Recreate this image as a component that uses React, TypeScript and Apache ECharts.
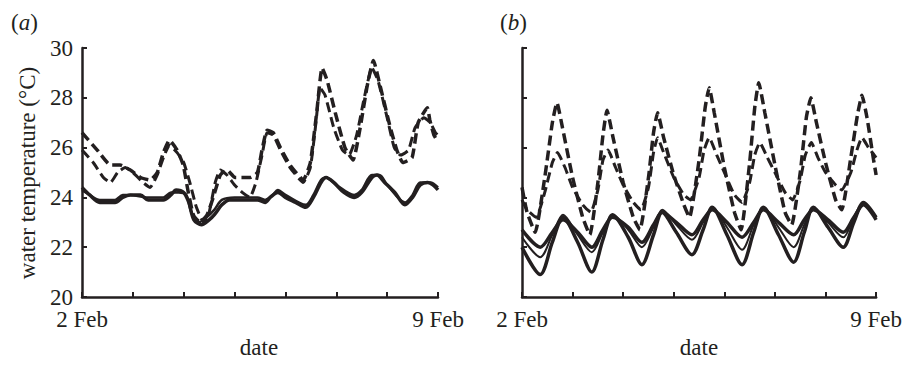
import React, { useEffect, useRef } from "react";
import * as echarts from "echarts";

// ---------- data (day offset from 2 Feb, water temperature °C) ----------
const xTickLabels = ["2 Feb", "", "", "", "", "", "", "9 Feb"];
const yTicks = [20, 22, 24, 26, 28, 30];

// panel (a)
const aDashed1: [number, number][] = [
  [0, 26.6], [0.3, 25.9], [0.56, 25.3], [0.75, 25.3], [0.95, 25.1], [1.15, 24.8], [1.34, 24.7],
  [1.48, 25.0], [1.6, 25.8], [1.72, 26.3], [1.87, 25.9], [1.99, 25.3], [2.09, 24.2], [2.19, 23.3],
  [2.32, 23.0], [2.46, 23.3], [2.58, 24.0], [2.72, 24.9], [2.85, 25.1], [3.01, 24.8], [3.31, 24.8],
  [3.45, 25.0], [3.54, 25.9], [3.64, 26.7], [3.76, 26.6], [3.9, 26.0], [4.09, 25.3], [4.35, 24.7],
  [4.49, 25.4], [4.62, 27.5], [4.72, 29.2], [4.82, 28.7], [4.98, 27.4], [5.17, 26.0], [5.33, 25.5],
  [5.47, 26.8], [5.61, 28.5], [5.73, 29.5], [5.86, 28.5], [6.05, 26.9], [6.19, 25.9], [6.31, 25.4],
  [6.49, 25.6], [6.61, 27.0], [6.79, 27.6], [6.84, 27.1], [6.92, 26.5], [6.98, 26.3],
];
const aDashed2: [number, number][] = [
  [0, 25.9], [0.22, 25.4], [0.42, 24.8], [0.56, 24.6], [0.7, 25.0], [0.85, 25.2], [1.0, 25.0],
  [1.2, 24.6], [1.34, 24.4], [1.48, 24.9], [1.6, 25.6], [1.72, 26.1], [1.87, 25.8], [2.0, 25.4],
  [2.12, 24.6], [2.25, 23.6], [2.39, 23.0], [2.5, 23.4], [2.62, 24.6], [2.72, 25.1], [2.85, 24.9],
  [3.0, 24.5], [3.15, 24.2], [3.3, 24.0], [3.42, 24.6], [3.54, 25.7], [3.64, 26.6], [3.76, 26.5],
  [3.9, 25.9], [4.09, 25.2], [4.35, 24.6], [4.49, 25.2], [4.6, 27.0], [4.68, 28.4], [4.78, 28.1],
  [4.95, 26.8], [5.12, 25.9], [5.25, 25.7], [5.4, 26.5], [5.55, 28.0], [5.7, 29.2], [5.82, 28.7],
  [6.0, 27.2], [6.14, 26.0], [6.26, 25.7], [6.42, 25.9], [6.55, 26.8], [6.72, 27.2], [6.85, 27.0],
  [6.95, 26.6], [7.0, 26.5],
];
const aSolid1: [number, number][] = [
  [0, 24.4], [0.15, 24.1], [0.35, 23.8], [0.65, 23.8], [0.8, 24.0], [0.95, 24.1], [1.15, 24.1],
  [1.3, 23.9], [1.6, 23.9], [1.75, 24.1], [1.85, 24.3], [2.0, 24.2], [2.1, 23.8], [2.2, 23.1],
  [2.35, 22.9], [2.5, 23.1], [2.6, 23.3], [2.75, 23.7], [2.9, 23.9], [3.2, 23.9], [3.45, 23.9],
  [3.6, 23.8], [3.7, 24.0], [3.85, 24.2], [4.0, 24.0], [4.2, 23.8], [4.4, 23.6], [4.55, 24.0],
  [4.7, 24.6], [4.8, 24.8], [4.95, 24.6], [5.15, 24.2], [5.35, 24.0], [5.5, 24.2], [5.7, 24.8],
  [5.8, 24.9], [5.95, 24.6], [6.15, 24.2], [6.35, 23.7], [6.5, 24.0], [6.65, 24.5], [6.8, 24.6],
  [6.9, 24.5], [7.0, 24.3],
];
const aSolid2: [number, number][] = [
  [0, 24.3], [0.15, 24.1], [0.35, 23.9], [0.65, 23.9], [0.8, 24.1], [0.95, 24.1], [1.3, 24.0],
  [1.6, 24.0], [1.75, 24.2], [1.9, 24.2], [2.05, 24.1], [2.15, 23.4], [2.3, 23.0], [2.45, 23.2],
  [2.6, 23.5], [2.75, 23.9], [3.0, 24.0], [3.45, 24.0], [3.6, 23.9], [3.75, 24.1], [3.85, 24.3],
  [4.0, 24.1], [4.4, 23.7], [4.55, 24.1], [4.7, 24.7], [4.8, 24.8], [5.0, 24.5], [5.35, 24.1],
  [5.5, 24.3], [5.7, 24.9], [5.85, 24.9], [6.0, 24.5], [6.35, 23.8], [6.5, 24.1], [6.65, 24.6],
  [6.85, 24.6], [7.0, 24.4],
];

// panel (b)
const bDashed1: [number, number][] = [
  [0, 24.4], [0.1, 23.4], [0.26, 22.6], [0.45, 24.8], [0.6, 27.0], [0.69, 27.8], [0.8, 26.8],
  [1.0, 24.8], [1.2, 23.2], [1.34, 22.5], [1.5, 24.6], [1.6, 26.5], [1.68, 27.5], [1.8, 26.4],
  [2.0, 24.6], [2.2, 23.2], [2.33, 22.7], [2.5, 24.8], [2.6, 26.6], [2.68, 27.4], [2.8, 26.4],
  [3.0, 24.9], [3.2, 23.7], [3.31, 23.2], [3.5, 25.5], [3.62, 27.6], [3.7, 28.4], [3.8, 27.4],
  [4.0, 25.2], [4.2, 23.4], [4.33, 22.7], [4.5, 25.4], [4.6, 27.6], [4.68, 28.6], [4.8, 27.4],
  [5.0, 25.3], [5.2, 23.4], [5.33, 22.9], [5.5, 25.0], [5.62, 27.2], [5.71, 28.0], [5.82, 27.0],
  [6.0, 25.4], [6.2, 23.9], [6.32, 23.5], [6.5, 25.6], [6.63, 27.3], [6.72, 28.1], [6.82, 27.2],
  [6.95, 25.5], [7.0, 24.9],
];
const bDashed2: [number, number][] = [
  [0, 23.9], [0.1, 23.5], [0.28, 23.2], [0.45, 24.2], [0.6, 25.4], [0.7, 25.8], [0.85, 25.2],
  [1.0, 24.4], [1.2, 23.7], [1.36, 23.4], [1.5, 24.3], [1.6, 25.5], [1.7, 25.9], [1.85, 25.2],
  [2.0, 24.5], [2.2, 23.8], [2.35, 23.5], [2.5, 24.4], [2.6, 25.8], [2.68, 26.4], [2.8, 25.8],
  [3.0, 24.8], [3.2, 24.1], [3.33, 23.9], [3.5, 24.8], [3.6, 25.9], [3.7, 26.4], [3.85, 25.7],
  [4.0, 25.0], [4.2, 24.1], [4.35, 23.8], [4.5, 24.6], [4.6, 25.7], [4.7, 26.2], [4.85, 25.6],
  [5.0, 25.0], [5.2, 24.2], [5.35, 23.9], [5.5, 24.7], [5.6, 25.7], [5.72, 26.2], [5.85, 25.6],
  [6.0, 25.0], [6.2, 24.5], [6.32, 24.3], [6.5, 25.0], [6.62, 25.9], [6.72, 26.4], [6.85, 26.0],
  [7.0, 25.6],
];
const bSolid1: [number, number][] = [
  [0, 22.0], [0.36, 20.9], [0.6, 22.2], [0.81, 23.2], [1.1, 22.2], [1.38, 21.0], [1.6, 22.3],
  [1.79, 23.3], [2.1, 22.4], [2.37, 21.3], [2.6, 22.5], [2.77, 23.4], [3.05, 22.6], [3.36, 21.7],
  [3.58, 22.7], [3.76, 23.6], [4.05, 22.5], [4.35, 21.3], [4.58, 22.6], [4.77, 23.6], [5.07, 22.5],
  [5.37, 21.4], [5.58, 22.6], [5.76, 23.6], [6.05, 22.8], [6.35, 22.0], [6.56, 23.0], [6.75, 23.8],
  [7.0, 23.2],
];
const bSolid2: [number, number][] = [
  [0, 22.4], [0.36, 21.6], [0.6, 22.5], [0.81, 23.3], [1.1, 22.5], [1.38, 21.8], [1.6, 22.6],
  [1.79, 23.3], [2.1, 22.7], [2.37, 22.0], [2.6, 22.8], [2.77, 23.5], [3.05, 22.9], [3.36, 22.3],
  [3.58, 23.0], [3.76, 23.6], [4.05, 22.8], [4.35, 21.9], [4.58, 22.9], [4.77, 23.6], [5.07, 22.8],
  [5.37, 22.0], [5.58, 22.9], [5.76, 23.6], [6.05, 23.0], [6.35, 22.4], [6.56, 23.2], [6.75, 23.8],
  [7.0, 23.2],
];
const bSolid3: [number, number][] = [
  [0, 22.7], [0.36, 22.0], [0.6, 22.6], [0.81, 23.1], [1.1, 22.6], [1.38, 22.0], [1.6, 22.7],
  [1.79, 23.2], [2.1, 22.8], [2.37, 22.2], [2.6, 22.9], [2.77, 23.4], [3.05, 23.0], [3.36, 22.5],
  [3.58, 23.1], [3.76, 23.5], [4.05, 23.0], [4.35, 22.4], [4.58, 23.0], [4.77, 23.5], [5.07, 23.0],
  [5.37, 22.5], [5.58, 23.1], [5.76, 23.5], [6.05, 23.1], [6.35, 22.6], [6.56, 23.2], [6.75, 23.7],
  [7.0, 23.1],
];

const FONT = "Liberation Serif";
const FS = 23;
const INK = "#231f20";

function xAxisFor(gridIndex: number) {
  return {
    type: "value",
    gridIndex,
    min: 0,
    max: 7,
    interval: 1,
    axisLine: { show: true, lineStyle: { color: INK, width: 2.5 } },
    axisTick: { show: true, inside: true, length: 5, lineStyle: { color: INK, width: 2 } },
    splitLine: { show: false },
    axisLabel: {
      show: true,
      margin: 11,
      color: INK,
      fontFamily: FONT,
      fontSize: FS,
      formatter: (v: number) => xTickLabels[Math.round(v)] ?? "",
    },
  };
}

function yAxisFor(gridIndex: number, showLabels: boolean) {
  return {
    type: "value",
    gridIndex,
    min: yTicks[0],
    max: yTicks[yTicks.length - 1],
    interval: 2,
    axisLine: { show: true, lineStyle: { color: INK, width: 2.5 } },
    axisTick: { show: true, inside: true, length: 5, lineStyle: { color: INK, width: 2 } },
    splitLine: { show: false },
    axisLabel: {
      show: showLabels,
      margin: 9,
      color: INK,
      fontFamily: FONT,
      fontSize: FS,
    },
  };
}

function line(data: [number, number][], idx: number, dashed: boolean, width: number) {
  return {
    type: "line",
    xAxisIndex: idx,
    yAxisIndex: idx,
    data,
    showSymbol: false,
    smooth: dashed ? 0.15 : 0.3,
    lineStyle: {
      color: INK,
      width,
      type: dashed ? [10, 5] : "solid",
      cap: "butt",
    },
    silent: true,
  };
}

function label(text: string, x: number, y: number, extra: object = {}) {
  return {
    type: "text",
    x,
    y,
    ...extra,
    style: {
      text,
      fill: INK,
      fontFamily: FONT,
      fontSize: FS,
      align: "center",
      verticalAlign: "middle",
    },
  };
}

function panelTag(letter: string, x: number) {
  return {
    type: "text",
    x,
    y: 22,
    style: {
      text: `(${"{i|" + letter + "}"})`,
      fill: INK,
      fontFamily: FONT,
      fontSize: FS,
      verticalAlign: "middle",
      rich: { i: { fontStyle: "italic", fontFamily: FONT, fontSize: FS, fill: INK } },
    },
  };
}

export default function App() {
  const ref = useRef<HTMLDivElement>(null);
  useEffect(() => {
    if (!ref.current) return;
    const chart = echarts.init(ref.current, undefined, { renderer: "svg" });
    chart.setOption({
      animation: false,
      backgroundColor: "#ffffff",
      textStyle: { fontFamily: FONT },
      grid: [
        { left: 82, top: 48, width: 356, height: 249 },
        { left: 522, top: 48, width: 356, height: 249 },
      ],
      xAxis: [xAxisFor(0), xAxisFor(1)],
      yAxis: [yAxisFor(0, true), yAxisFor(1, false)],
      series: [
        line(aDashed1, 0, true, 3.5),
        line(aDashed2, 0, true, 3),
        line(aSolid1, 0, false, 3.5),
        line(aSolid2, 0, false, 2.5),
        line(bDashed1, 1, true, 3.5),
        line(bDashed2, 1, true, 3),
        line(bSolid1, 1, false, 3.5),
        line(bSolid2, 1, false, 2),
        line(bSolid3, 1, false, 3.5),
      ],
      graphic: [
        panelTag("a", 11),
        panelTag("b", 500),
        label("water temperature (°C)", 27, 173, { rotation: Math.PI / 2 }),
        label("date", 259, 347),
        label("date", 699, 347),
      ],
    });
    return () => chart.dispose();
  }, []);
  return (
    <div
      ref={ref}
      style={{ position: "absolute", left: 0, top: 0, width: 905, height: 367 }}
    />
  );
}
